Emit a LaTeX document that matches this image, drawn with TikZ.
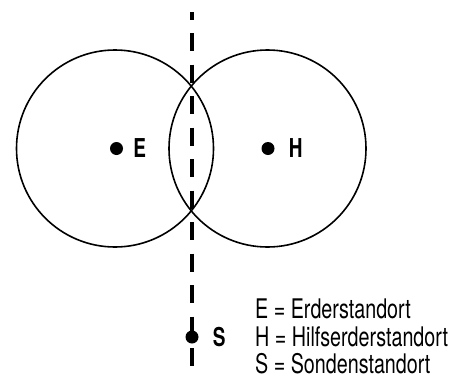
\documentclass[tikz,border=0pt]{standalone}
\usepackage{fontspec}
\newfontfamily\condfont{TeX Gyre Heros}[FakeStretch=0.73]
\usetikzlibrary{positioning}

\begin{document}
\begin{tikzpicture}[x=1pt,y=-1pt,
 zone/.style={draw,circle,line width=1.6pt,minimum size=197pt,inner sep=0pt},
 spot/.style={fill,circle,inner sep=0pt,minimum size=13pt},
 tag/.style={font=\condfont\fontsize{26}{26}\selectfont\bfseries,inner sep=0pt},
 legend/.style={anchor=base west,inner sep=0pt,font=\condfont\fontsize{27}{28}\selectfont},
 probe/.style={line width=3.3pt,dash pattern=on 18pt off 13.5pt,dash phase=10.5pt}]
\useasboundingbox (0,0) rectangle (464,378);
% measuring zones
\node[zone] (ze) at (115,148.5) {};
\node[zone] (zh) at (267.5,148.5) {};
% probe line
\coordinate (top) at (192,12);
\coordinate (bot) at (192,368);
\draw[probe] (top)--(bot);
% sites
\node[spot] (e) at (116.5,148.5) {};
\node[spot] (h) at (268,148.5) {};
\node[spot] (s) at (192,337) {};
\node[tag,right=10pt of e] (le) {E};
\node[tag,right=14pt of h] (lh) {H};
\node[tag,right=14pt of s] (ls) {S};
% legend
\node[legend] (k1) at (255,318) {E = Erderstandort};
\node[legend] (k2) at (255,346) {H = Hilfserderstandort};
\node[legend] (k3) at (255,373.5) {S = Sondenstandort};
\end{tikzpicture}
\end{document}
